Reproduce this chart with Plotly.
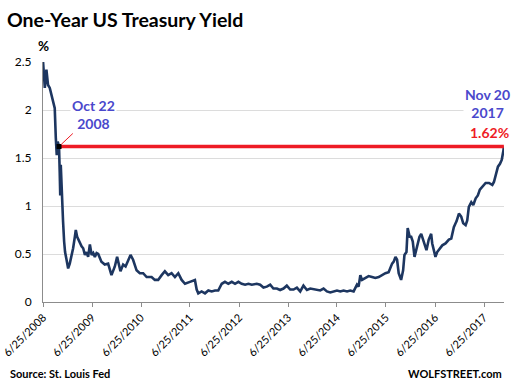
import plotly.graph_objects as go

dates = [
    "2008-06-25","2008-07-08","2008-07-20","2008-08-01","2008-08-14","2008-08-27","2008-09-08","2008-09-20",
    "2008-09-28","2008-10-05","2008-10-12","2008-10-22","2008-10-27","2008-10-31","2008-11-04","2008-11-10",
    "2008-11-17","2008-11-21","2008-11-29","2008-12-06","2008-12-17","2008-12-29","2009-01-10","2009-01-23",
    "2009-02-04","2009-02-17","2009-02-24","2009-03-06","2009-03-21","2009-04-08","2009-04-20","2009-05-03",
    "2009-05-15","2009-05-27","2009-06-09","2009-06-22","2009-07-04","2009-07-16","2009-07-29","2009-08-10",
    "2009-09-03","2009-09-28","2009-10-23","2009-11-17","2009-12-12","2009-12-29","2010-01-23","2010-02-12",
    "2010-03-02","2010-03-21","2010-04-08","2010-04-27","2010-05-23","2010-06-16","2010-07-11","2010-08-06",
    "2010-09-12","2010-10-06","2010-10-31","2010-11-26","2010-12-20","2011-01-14","2011-02-08","2011-03-05",
    "2011-03-30","2011-04-24","2011-05-19","2011-06-25","2011-07-20","2011-08-01","2011-08-14","2011-08-26",
    "2011-09-20","2011-10-15","2011-11-09","2011-12-04","2011-12-29","2012-01-22","2012-02-17","2012-03-12",
    "2012-04-06","2012-05-02","2012-05-26","2012-06-20","2012-07-15","2012-08-09","2012-09-03","2012-09-28",
    "2012-11-04","2012-11-29","2012-12-24","2013-01-18","2013-02-12","2013-03-08","2013-04-03","2013-04-27",
    "2013-05-22","2013-06-16","2013-07-11","2013-08-05","2013-08-30","2013-09-24","2013-10-18","2013-11-13",
    "2013-12-08","2014-01-01","2014-01-27","2014-02-20","2014-03-17","2014-04-11","2014-05-06","2014-05-31",
    "2014-06-25","2014-07-20","2014-08-13","2014-09-08","2014-10-02","2014-10-27","2014-11-21","2014-12-03",
    "2014-12-16","2014-12-29","2015-01-22","2015-02-16","2015-03-13","2015-04-07","2015-05-02","2015-05-27",
    "2015-06-21","2015-07-15","2015-08-10","2015-08-22","2015-09-04","2015-09-16","2015-09-28","2015-10-16",
    "2015-10-31","2015-11-10","2015-11-25","2015-12-04","2015-12-19","2015-12-30","2016-01-11","2016-01-24",
    "2016-02-13","2016-03-01","2016-03-14","2016-03-26","2016-04-07","2016-04-22","2016-05-09","2016-05-27",
    "2016-06-04","2016-06-16","2016-06-28","2016-07-11","2016-07-31","2016-08-18","2016-09-11","2016-10-06",
    "2016-10-24","2016-10-31","2016-11-12","2016-11-25","2016-12-02","2016-12-20","2017-01-06","2017-01-21",
    "2017-02-08","2017-02-20","2017-03-04","2017-03-22","2017-04-06","2017-04-24","2017-05-10","2017-05-25",
    "2017-06-12","2017-07-07","2017-08-01","2017-08-26","2017-09-07","2017-09-20","2017-10-07","2017-10-22",
    "2017-11-04","2017-11-17","2017-11-20",
]
yields = [
    2.50, 2.23, 2.42, 2.26, 2.23, 2.16, 2.07, 2.02,
    1.71, 1.53, 1.67, 1.62, 1.36, 1.11, 1.43, 1.18,
    0.98, 0.84, 0.63, 0.52, 0.44, 0.35, 0.40, 0.47,
    0.56, 0.68, 0.75, 0.68, 0.63, 0.58, 0.56, 0.49,
    0.52, 0.47, 0.60, 0.49, 0.51, 0.47, 0.51, 0.50,
    0.42, 0.39, 0.40, 0.28, 0.37, 0.47, 0.32, 0.39,
    0.37, 0.44, 0.49, 0.44, 0.33, 0.30, 0.30, 0.26,
    0.26, 0.23, 0.23, 0.28, 0.32, 0.28, 0.30, 0.26,
    0.30, 0.23, 0.19, 0.21, 0.22, 0.23, 0.13, 0.09,
    0.11, 0.09, 0.12, 0.11, 0.12, 0.12, 0.19, 0.21,
    0.19, 0.21, 0.19, 0.21, 0.19, 0.18, 0.19, 0.18,
    0.19, 0.18, 0.15, 0.16, 0.18, 0.14, 0.14, 0.125,
    0.14, 0.17, 0.13, 0.13, 0.15, 0.11, 0.17, 0.125,
    0.14, 0.135, 0.125, 0.12, 0.14, 0.11, 0.10, 0.11,
    0.12, 0.11, 0.12, 0.11, 0.12, 0.11, 0.18, 0.16,
    0.28, 0.23, 0.25, 0.27, 0.26, 0.25, 0.26, 0.28,
    0.30, 0.31, 0.40, 0.42, 0.47, 0.44, 0.30, 0.23,
    0.33, 0.49, 0.52, 0.77, 0.68, 0.68, 0.63, 0.47,
    0.58, 0.68, 0.71, 0.65, 0.59, 0.54, 0.65, 0.71,
    0.61, 0.54, 0.47, 0.52, 0.56, 0.59, 0.61, 0.65,
    0.66, 0.70, 0.78, 0.82, 0.84, 0.92, 0.89, 0.82,
    0.80, 0.85, 0.99, 1.04, 1.01, 1.08, 1.11, 1.17,
    1.20, 1.24, 1.24, 1.22, 1.25, 1.32, 1.41, 1.44,
    1.48, 1.58, 1.62,
]

event_date = "2008-10-22"
event_label = "Oct 22<br>2008"
latest_date = "2017-11-20"
latest_label = "Nov 20<br>2017"
latest_value = 1.62
latest_value_label = "1.62%"

tick_dates = ["2008-06-25","2009-06-25","2010-06-25","2011-06-25","2012-06-25",
              "2013-06-25","2014-06-25","2015-06-25","2016-06-25","2017-06-25"]
tick_labels = ["6/25/2008","6/25/2009","6/25/2010","6/25/2011","6/25/2012",
               "6/25/2013","6/25/2014","6/25/2015","6/25/2016","6/25/2017"]
y_ticks = [0, 0.5, 1, 1.5, 2, 2.5]
y_tick_labels = ["0", "0.5", "1", "1.5", "2", "2.5"]

NAVY = "#1d3660"
RED = "#ee1c25"
BLUE_TXT = "#4a48cc"
FONT = "Lato"

fig = go.Figure()
fig.add_trace(go.Scatter(x=dates, y=yields, mode="lines",
                         line=dict(color=NAVY, width=2.6), hoverinfo="skip", cliponaxis=False))
fig.add_trace(go.Scatter(x=[event_date, latest_date], y=[latest_value, latest_value],
                         mode="lines", line=dict(color=RED, width=3.5), hoverinfo="skip"))
fig.add_trace(go.Scatter(x=[event_date], y=[latest_value], mode="markers",
                         marker=dict(symbol="square", size=5, color="black"), hoverinfo="skip"))

fig.update_layout(
    width=511, height=388,
    margin=dict(l=43, r=7, t=62, b=86, autoexpand=False),
    paper_bgcolor="white", plot_bgcolor="white",
    showlegend=False,
    font=dict(family=FONT, color="black", size=11),
    title=dict(text="<b>One-Year US Treasury Yield</b>", x=7/511, xanchor="left",
               y=1-20/388, yanchor="middle", font=dict(family=FONT, size=19.5, color="black")),
)
fig.update_xaxes(
    type="date", range=["2008-06-24 12:00", "2017-11-21"], automargin=False,
    tickmode="array", tickvals=tick_dates, ticktext=tick_labels, tickangle=-45,
    ticklabeloverflow="allow",
    showgrid=False, showline=True, linecolor="#8c8c8c", linewidth=1,
    ticks="outside", ticklen=4, tickcolor="#8c8c8c",
    tickfont=dict(family=FONT, size=11, color="black"), zeroline=False,
)
fig.update_yaxes(
    range=[0, 2.5], tickmode="array", tickvals=y_ticks, ticktext=y_tick_labels, automargin=False,
    showgrid=True, gridcolor="#dcdcdc", gridwidth=1,
    showline=True, linecolor="#8c8c8c", linewidth=1, zeroline=False,
    ticks="", tickfont=dict(family=FONT, size=12, color="black"), ticklabelstandoff=8,
)

annotations = [
    dict(x=event_date, y=latest_value, xref="x", yref="y", text="<b>" + event_label + "</b>",
         showarrow=True, arrowhead=0, arrowwidth=1, arrowcolor=RED, ax=34, ay=-32,
         standoff=3, bgcolor="white", font=dict(family=FONT, size=14, color=BLUE_TXT)),
    dict(x=(487-43)/461, y=(302-103.5)/240, xref="paper", yref="paper", showarrow=False,
         xanchor="center", yanchor="middle",
         text="<b>" + latest_label + "</b>", bgcolor="white",
         font=dict(family=FONT, size=14, color=BLUE_TXT)),
    dict(x=(489.5-43)/461, y=(302-132)/240, xref="paper", yref="paper", showarrow=False,
         xanchor="center", yanchor="middle",
         text="<b>" + latest_value_label + "</b>",
         font=dict(family=FONT, size=14, color=RED)),
    dict(x=0, y=(302-46)/240, xref="paper", yref="paper", showarrow=False,
         xanchor="center", yanchor="middle",
         text="<b>%</b>", font=dict(family=FONT, size=13.5, color="black")),
    dict(x=(8-43)/461, y=(302-373)/240, xref="paper", yref="paper", showarrow=False,
         xanchor="left", yanchor="middle", text="<b>Source: St. Louis Fed</b>",
         font=dict(family=FONT, size=11, color="black")),
    dict(x=(504-43)/461, y=(302-373)/240, xref="paper", yref="paper", showarrow=False,
         xanchor="right", yanchor="middle", text="<b>WOLFSTREET.com</b>",
         font=dict(family=FONT, size=11, color="black")),
]
fig.update_layout(annotations=annotations)

fig.write_html("out.html", config={"displayModeBar": False},
               post_script="document.body.style.margin='0';")
